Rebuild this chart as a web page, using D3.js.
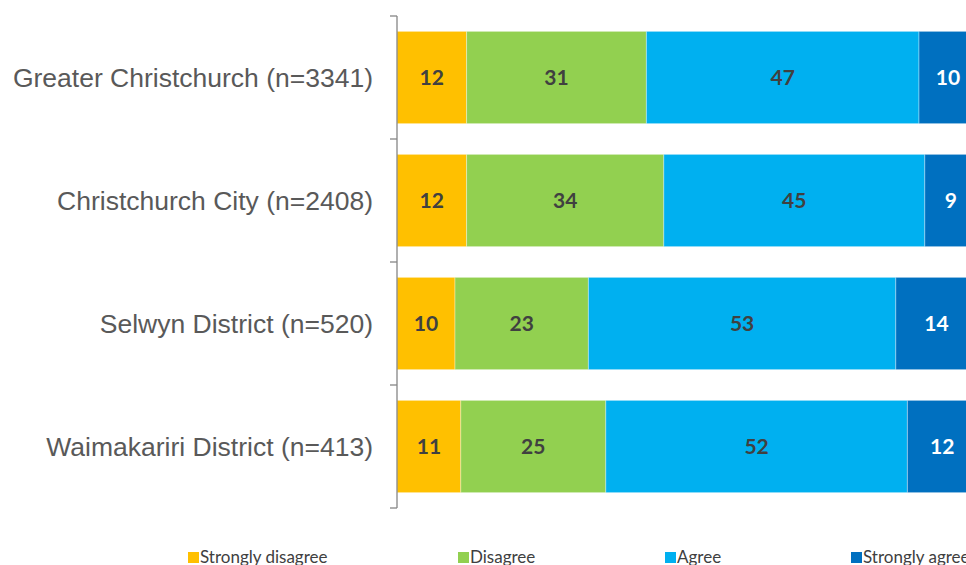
<!doctype html>
<html lang="en">
  <head>
    <meta charset="UTF-8" />
    <title>Agreement by district</title>
    <script src="https://unpkg.com/d3@7.9.0/dist/d3.min.js"></script>
    <style>
      body {
        margin: 0;
        background: #fff;
        overflow: hidden;
      }
      .cat-label {
        font-family: 'Liberation Sans', Arial, sans-serif;
        font-size: 26.5px;
        fill: #595959;
      }
      .val-label {
        font-family: Lato, 'Open Sans', sans-serif;
        font-weight: bold;
        font-size: 21px;
      }
      .legend text {
        font-family: Lato, 'Open Sans', sans-serif;
        font-size: 17px;
        fill: #404040;
      }
    </style>
  </head>
  <body>
    <div id="chart"></div>
    <script>
      const categories = [
        'Greater Christchurch (n=3341)',
        'Christchurch City (n=2408)',
        'Selwyn District (n=520)',
        'Waimakariri District (n=413)',
      ];
      const seriesNames = ['Strongly disagree', 'Disagree', 'Agree', 'Strongly agree'];
      const stronglyDisagree = [12, 12, 10, 11];
      const disagree = [31, 34, 23, 25];
      const agree = [47, 45, 53, 52];
      const stronglyAgree = [10, 9, 14, 12];

      const colors = ['#FFC000', '#92D050', '#00B0F0', '#0070C0'];
      const labelColors = ['#404040', '#404040', '#404040', '#ffffff'];

      const W = 966;
      const H = 565;
      const plot = { left: 397, top: 16, bottom: 508, right: 977 };

      const rows = categories.map((c, i) => ({
        cat: c,
        'Strongly disagree': stronglyDisagree[i],
        Disagree: disagree[i],
        Agree: agree[i],
        'Strongly agree': stronglyAgree[i],
      }));

      const stacked = d3.stack().keys(seriesNames)(rows);

      const x = d3.scaleLinear().domain([0, 100]).range([plot.left, plot.right]);
      const y = d3
        .scaleBand()
        .domain(categories)
        .range([plot.top, plot.bottom])
        .paddingInner(0.25)
        .paddingOuter(0.125);

      const svg = d3
        .select('#chart')
        .append('svg')
        .attr('width', W)
        .attr('height', H);

      // bars
      const layers = svg
        .selectAll('g.layer')
        .data(stacked)
        .join('g')
        .attr('class', 'layer')
        .attr('fill', (d, i) => colors[i]);

      layers
        .selectAll('rect')
        .data((d) => d)
        .join('rect')
        .attr('x', (d) => x(d[0]))
        .attr('y', (d) => y(d.data.cat))
        .attr('width', (d) => x(d[1]) - x(d[0]))
        .attr('height', y.bandwidth())
        .attr('stroke', 'rgba(255,255,255,0.35)')
        .attr('stroke-width', 1);

      layers
        .selectAll('text')
        .data((d, i) => d.map((v) => ({ v, i })))
        .join('text')
        .attr('class', 'val-label')
        .attr('x', (d) => (x(d.v[0]) + x(d.v[1])) / 2)
        .attr('y', (d) => y(d.v.data.cat) + y.bandwidth() / 2)
        .attr('dy', '0.36em')
        .attr('text-anchor', 'middle')
        .attr('fill', (d) => labelColors[d.i])
        .text((d) => d.v[1] - d.v[0]);

      // y axis with ticks between categories
      const step = y.step();
      const axisG = svg.append('g').attr('stroke', '#868686').attr('stroke-width', 1.3);
      axisG
        .append('line')
        .attr('x1', plot.left)
        .attr('x2', plot.left)
        .attr('y1', plot.top)
        .attr('y2', plot.bottom);
      d3.range(categories.length + 1).forEach((k) => {
        axisG
          .append('line')
          .attr('x1', plot.left - 7)
          .attr('x2', plot.left)
          .attr('y1', plot.top + k * step)
          .attr('y2', plot.top + k * step);
      });

      svg
        .selectAll('text.cat-label')
        .data(categories)
        .join('text')
        .attr('class', 'cat-label')
        .attr('x', 373)
        .attr('y', (d) => y(d) + y.bandwidth() / 2)
        .attr('dy', '0.35em')
        .attr('text-anchor', 'end')
        .text((d) => d);

      // legend
      const legendX = [188, 458, 665, 851];
      const legend = svg
        .append('g')
        .attr('class', 'legend')
        .selectAll('g')
        .data(seriesNames)
        .join('g')
        .attr('transform', (d, i) => `translate(${legendX[i]},550)`);
      legend
        .append('rect')
        .attr('width', 11)
        .attr('height', 11)
        .attr('y', 2)
        .attr('fill', (d, i) => colors[i]);
      legend
        .append('text')
        .attr('x', 12)
        .attr('y', 13)
        .text((d) => d);
    </script>
  </body>
</html>
